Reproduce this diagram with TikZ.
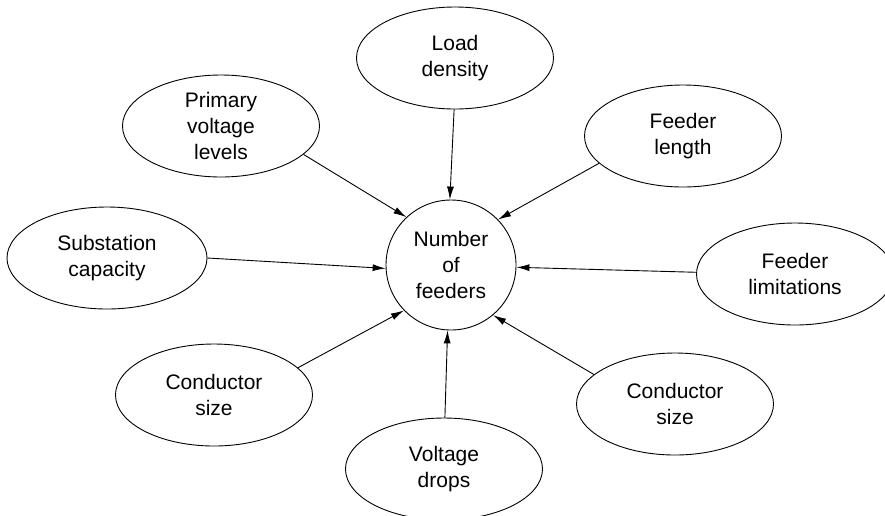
\documentclass[tikz,border=0pt]{standalone}
\usepackage{fontspec}
\setmainfont{Liberation Sans}
\usetikzlibrary{shapes.geometric,arrows.meta}
\begin{document}
\begin{tikzpicture}[x=1pt,y=-1pt,
  oval/.style={draw,ellipse,line width=0.9pt,minimum width=197pt,minimum height=102pt,inner sep=0pt},
  lab/.style={align=center,font=\fontsize{21}{26}\selectfont},
  hub/.style={draw,circle,line width=0.9pt,minimum size=130pt,inner sep=0pt,align=center,font=\fontsize{21}{26}\selectfont},
  conn/.style={line width=0.9pt,-{Latex[length=13pt,width=7pt]}}]
\useasboundingbox (0,0) rectangle (885,515);
\node[hub] (c) at (451,265) {Number\\of\\feeders};
\node[oval,label={[lab]center:Load\\density}] (load) at (455,58) {};
\node[oval,label={[lab]center:Primary\\voltage\\levels}] (prim) at (221,126) {};
\node[oval,label={[lab]center:Feeder\\length}] (flen) at (683,136) {};
\node[oval,minimum width=200pt,label={[lab]center:Substation\\capacity}] (sub) at (107,258) {};
\node[oval,label={[lab]center:Feeder\\limitations}] (flim) at (795,274) {};
\node[oval,label={[lab]center:Conductor\\size}] (cl) at (214,395) {};
\node[oval,label={[lab]center:Voltage\\drops}] (vd) at (444,469) {};
\node[oval,label={[lab]center:Conductor\\size}] (cr) at (675,404) {};
\draw[conn] (load.-91) -- (c.91);
\draw[conn] (prim.-19) -- (c.133);
\draw[conn] (flen.198) -- (c.44);
\draw[conn] (sub.0) -- (c.183);
\draw[conn] (flim.179) -- (c.-2);
\draw[conn] (cl.18) -- (c.224);
\draw[conn] (vd.89) -- (c.267);
\draw[conn] (cr.160) -- (c.-50);
\end{tikzpicture}
\end{document}
